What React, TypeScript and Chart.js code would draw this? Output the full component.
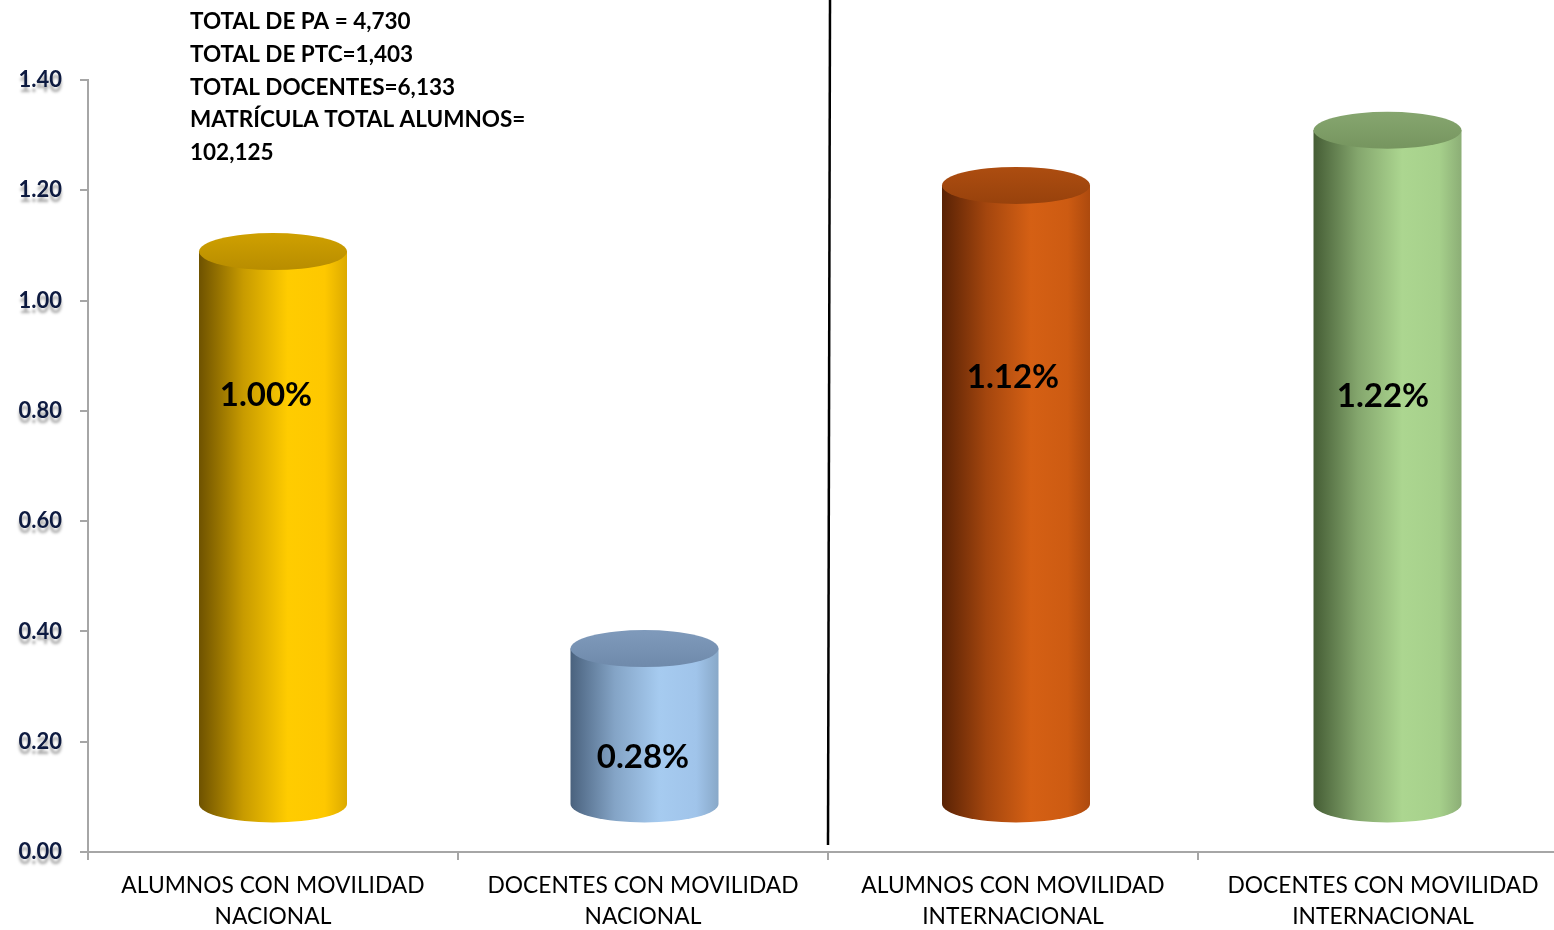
import React, { useEffect, useRef } from "react";
import { Chart, registerables } from "chart.js";

Chart.register(...registerables);

const categories: string[][] = [
  ["ALUMNOS CON MOVILIDAD", "NACIONAL"],
  ["DOCENTES CON MOVILIDAD", "NACIONAL"],
  ["ALUMNOS CON MOVILIDAD", "INTERNACIONAL"],
  ["DOCENTES CON MOVILIDAD", "INTERNACIONAL"],
];
const values: number[] = [1.0, 0.28, 1.12, 1.22];
const valueLabels: string[] = ["1.00%", "0.28%", "1.12%", "1.22%"];
const yMin = 0;
const yMax = 1.4;
const yStep = 0.2;
const noteLines: string[] = [
  "TOTAL DE PA = 4,730",
  "TOTAL DE PTC=1,403",
  "TOTAL DOCENTES=6,133",
  "MATRÍCULA TOTAL ALUMNOS=",
  "102,125",
];

const FONT = "Lato, 'Open Sans', sans-serif";
const Y_TICK_FONT = `bold 22px ${FONT}`;
const Y_TICK_COLOR = "#0d1a40";

// cylinder colour palettes: [body gradient stops], top
const palettes = [
  { body: ["#6e5200", "#c89b00", "#ffcc00", "#fec800", "#dcaa00"], top: ["#b88d00", "#cfa000"] },
  { body: ["#4a627e", "#84a4c6", "#a6cbf0", "#a0c4ea", "#88a8c8"], top: ["#6f8aab", "#7f9abb"] },
  { body: ["#592205", "#a4460e", "#d56014", "#cd5b12", "#ad4a0e"], top: ["#98420c", "#ad4d10"] },
  { body: ["#455d35", "#84a66d", "#acd690", "#a6d08b", "#8cae76"], top: ["#76955f", "#86a66f"] },
];
// vertical placement of value labels within each cylinder (fraction from top)
const labelFrac = [0.26, 0.7, 0.31, 0.395];

const cylinderPlugin = {
  id: "cylinders",
  afterDatasetsDraw(chart: any) {
    const ctx: CanvasRenderingContext2D = chart.ctx;
    const meta = chart.getDatasetMeta(0);
    const depth = 47;
    const ry = 18.5;
    meta.data.forEach((bar: any, i: number) => {
      const cx = bar.x + i * 1.5;
      const rx = bar.width / 2;
      const topY = bar.y - depth - 2;
      const botY = bar.base - depth;
      const p = palettes[i];
      ctx.save();
      const g = ctx.createLinearGradient(cx - rx, 0, cx + rx, 0);
      g.addColorStop(0, p.body[0]);
      g.addColorStop(0.3, p.body[1]);
      g.addColorStop(0.6, p.body[2]);
      g.addColorStop(0.85, p.body[3]);
      g.addColorStop(1, p.body[4]);
      ctx.beginPath();
      ctx.moveTo(cx - rx, topY);
      ctx.lineTo(cx - rx, botY);
      ctx.ellipse(cx, botY, rx, ry, 0, Math.PI, 0, true);
      ctx.lineTo(cx + rx, topY);
      ctx.closePath();
      ctx.fillStyle = g;
      ctx.fill();
      const gt = ctx.createLinearGradient(0, topY - ry, 0, topY + ry);
      gt.addColorStop(0, p.top[1]);
      gt.addColorStop(1, p.top[0]);
      ctx.beginPath();
      ctx.ellipse(cx, topY, rx, ry, 0, 0, Math.PI * 2);
      ctx.fillStyle = gt;
      ctx.fill();
      const ly = topY + (botY - topY) * labelFrac[i];
      ctx.font = `bold 33px ${FONT}`;
      ctx.fillStyle = "#000";
      ctx.textAlign = "center";
      ctx.textBaseline = "middle";
      ctx.fillText(valueLabels[i], bar.x - (i === 0 ? 7 : 0), ly);
      ctx.restore();
    });
  },
};

const extrasPlugin = {
  id: "extras",
  afterDraw(chart: any) {
    const ctx: CanvasRenderingContext2D = chart.ctx;
    const xs = chart.scales.x;
    const ys = chart.scales.y;
    ctx.save();
    // y tick labels with a soft reflection shadow
    ctx.font = Y_TICK_FONT;
    ctx.textAlign = "right";
    ctx.textBaseline = "middle";
    ys.ticks.forEach((t: any) => {
      const y = ys.getPixelForValue(t.value);
      const label = Number(t.value).toFixed(2);
      ctx.save();
      ctx.shadowColor = "rgba(0,0,0,0.35)";
      ctx.shadowOffsetY = 5;
      ctx.shadowBlur = 3;
      ctx.fillStyle = Y_TICK_COLOR;
      ctx.fillText(label, 62, y);
      ctx.restore();
    });
    // divider line between national and international
    const xd = (xs.getPixelForValue(1) + xs.getPixelForValue(2)) / 2 + 1;
    ctx.strokeStyle = "#000";
    ctx.lineWidth = 2.5;
    ctx.beginPath();
    ctx.moveTo(xd + 1, 0);
    ctx.lineTo(xd - 1, ys.bottom - 7);
    ctx.stroke();
    // note text
    ctx.font = `bold 22.5px ${FONT}`;
    ctx.fillStyle = "#000";
    ctx.textAlign = "left";
    ctx.textBaseline = "middle";
    noteLines.forEach((t, k) => {
      ctx.fillText(t, 190, 22 + k * 32.7);
    });
    ctx.restore();
  },
};

export default function App() {
  const ref = useRef<HTMLCanvasElement>(null);
  useEffect(() => {
    if (!ref.current) return;
    const chart = new Chart(ref.current, {
      type: "bar",
      data: {
        labels: categories,
        datasets: [
          {
            data: values,
            backgroundColor: "rgba(0,0,0,0)",
            borderWidth: 0,
            barPercentage: 0.4,
            categoryPercentage: 1,
          },
        ],
      },
      options: {
        responsive: false,
        animation: false,
        layout: { padding: { top: 80, right: 0, left: 0, bottom: 0 } },
        plugins: { legend: { display: false }, tooltip: { enabled: false } },
        scales: {
          x: {
            offset: true,
            grid: {
              offset: true,
              drawOnChartArea: false,
              drawTicks: true,
              tickLength: 8,
              color: "#a6a6a6",
              lineWidth: 2,
            },
            border: { display: true, color: "#a6a6a6", width: 2 },
            ticks: {
              color: "#000",
              padding: 10,
              maxRotation: 0,
              autoSkip: false,
              font: { family: FONT, size: 22.8, lineHeight: 1.37 },
            },
            afterFit(s: any) {
              s.height = 78;
            },
          },
          y: {
            min: yMin,
            max: yMax,
            grid: {
              drawOnChartArea: false,
              drawTicks: true,
              tickLength: 8,
              color: "#a6a6a6",
              lineWidth: 2,
            },
            border: { display: true, color: "#a6a6a6", width: 2 },
            ticks: {
              stepSize: yStep,
              color: "rgba(0,0,0,0)",
              padding: 18,
              font: { family: FONT, size: 22, weight: "bold" },
              callback: (v: any) => Number(v).toFixed(2),
            },
            afterFit(s: any) {
              s.width = 88;
            },
          },
        },
      },
      plugins: [cylinderPlugin, extrasPlugin],
    });
    return () => chart.destroy();
  }, []);
  return (
    <div
      style={{
        position: "fixed",
        left: 0,
        top: 0,
        width: 1554,
        height: 930,
        overflow: "hidden",
        background: "#fff",
      }}
    >
      <canvas ref={ref} width={1568} height={930} style={{ display: "block" }} />
    </div>
  );
}
